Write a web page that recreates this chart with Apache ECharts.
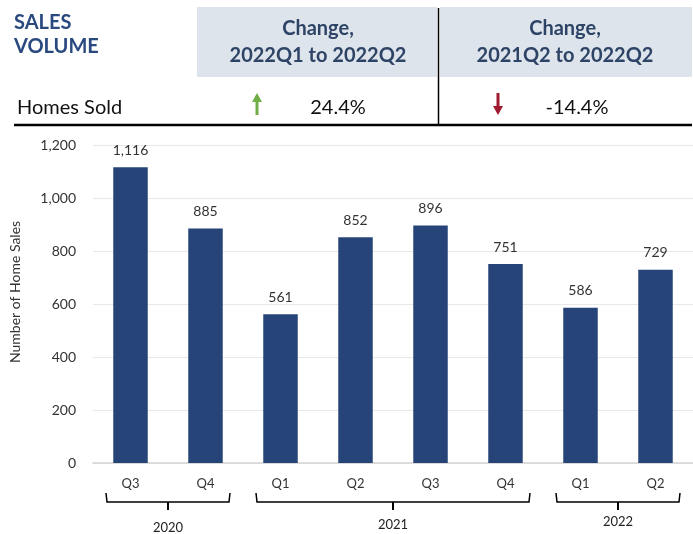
<!DOCTYPE html>
<html>
<head>
<meta charset="utf-8">
<script src="https://cdn.jsdelivr.net/npm/echarts@6/dist/echarts.min.js"></script>
<style>
  html, body { margin: 0; padding: 0; background: #fff; }
  #chart { width: 693px; height: 534px; }
</style>
</head>
<body>
<div id="chart"></div>
<script>
// data
const quarters = ["Q3", "Q4", "Q1", "Q2", "Q3", "Q4", "Q1", "Q2"];
const homeSales = [1116, 885, 561, 852, 896, 751, 586, 729];
const years = ["2020", "2021", "2022"];
const yearSpans = [2, 4, 2]; // number of quarters under each year
const yTicks = [0, 200, 400, 600, 800, 1000, 1200];
const changeHeaders = ["Change,\n2022Q1 to 2022Q2", "Change,\n2021Q2 to 2022Q2"];
const changeValues = ["24.4%", "-14.4%"];

const barColor = "#264478";
const headerColor = "#2e4466";
const font = "Lato, 'Noto Sans', sans-serif";

const chart = echarts.init(document.getElementById("chart"));

// static header table drawn with graphic elements
function arrow(cx, up, color) {
  const top = 93, bottom = 115;
  const shaft = up
    ? { type: "rect", shape: { x: cx - 1.5, y: top + 8, width: 3, height: bottom - top - 8 } }
    : { type: "rect", shape: { x: cx - 1.5, y: top, width: 3, height: bottom - top - 8 } };
  const head = up
    ? { type: "polygon", shape: { points: [[cx - 5, top + 9], [cx + 5, top + 9], [cx, top]] } }
    : { type: "polygon", shape: { points: [[cx - 5, bottom - 9], [cx + 5, bottom - 9], [cx, bottom]] } };
  shaft.style = { fill: color };
  head.style = { fill: color };
  return [shaft, head];
}

const headerGraphics = [
  { type: "rect", shape: { x: 197, y: 7, width: 240, height: 70 }, style: { fill: "#dee4eb" } },
  { type: "rect", shape: { x: 440, y: 7, width: 252, height: 70 }, style: { fill: "#dee4eb" } },
  { type: "line", shape: { x1: 438.5, y1: 8, x2: 438.5, y2: 125 }, style: { stroke: "#000", lineWidth: 1.5 } },
  { type: "line", shape: { x1: 14, y1: 125, x2: 692, y2: 125 }, style: { stroke: "#000", lineWidth: 2.5 } },
  {
    type: "text", x: 14, y: 11,
    style: { text: "SALES\nVOLUME", font: "bold 20px " + font, fill: "#2a4a7f", lineHeight: 24 }
  },
  {
    type: "text", x: 318, y: 42,
    style: { text: changeHeaders[0], font: "bold 20px " + font, fill: headerColor, align: "center", verticalAlign: "middle", lineHeight: 27 }
  },
  {
    type: "text", x: 565, y: 42,
    style: { text: changeHeaders[1], font: "bold 20px " + font, fill: headerColor, align: "center", verticalAlign: "middle", lineHeight: 27 }
  },
  {
    type: "text", x: 17, y: 108,
    style: { text: "Homes Sold", font: "20px " + font, fill: "#111", verticalAlign: "middle" }
  },
  {
    type: "text", x: 338, y: 108,
    style: { text: changeValues[0], font: "20px " + font, fill: "#111", align: "center", verticalAlign: "middle" }
  },
  {
    type: "text", x: 577, y: 108,
    style: { text: changeValues[1], font: "20px " + font, fill: "#111", align: "center", verticalAlign: "middle" }
  },
  ...arrow(257, true, "#70ad47"),
  ...arrow(498, false, "#a0192e")
];

const option = {
  animation: false,
  textStyle: { fontFamily: font },
  grid: { left: 91, right: -3, top: 145, bottom: 71 },
  xAxis: {
    type: "category",
    data: quarters,
    axisLine: { show: true, lineStyle: { color: "#d4d4d4", width: 1.5 } },
    axisTick: { show: false },
    axisLabel: { color: "#333", fontSize: 13, margin: 14, fontFamily: font }
  },
  yAxis: {
    type: "value",
    min: yTicks[0],
    max: yTicks[yTicks.length - 1],
    interval: 200,
    name: "Number of Home Sales",
    nameLocation: "middle",
    nameGap: 71,
    nameTextStyle: { color: "#333", fontSize: 14, fontFamily: font, padding: [0, 0, 0, 24] },
    axisLine: { show: false },
    axisTick: { show: false },
    axisLabel: {
      color: "#333", fontSize: 14, margin: 17, fontFamily: font,
      formatter: (v) => v.toLocaleString("en-US")
    },
    splitLine: { lineStyle: { color: "#e8e8e8", width: 1 } }
  },
  series: [
    {
      type: "bar",
      data: homeSales,
      barWidth: "46%",
      itemStyle: { color: barColor },
      label: {
        show: true,
        position: "top",
        distance: 10,
        color: "#333",
        fontSize: 14,
        fontFamily: font,
        formatter: (p) => p.value.toLocaleString("en-US")
      }
    }
  ],
  graphic: headerGraphics
};

chart.setOption(option);

// year brackets under the quarter labels, placed from the category axis
function yearBrackets() {
  const p0 = chart.convertToPixel({ xAxisIndex: 0 }, 0);
  const p1 = chart.convertToPixel({ xAxisIndex: 0 }, 1);
  const band = p1 - p0;
  const items = [];
  const yLine = 502, yTop = 493, yStem = 510, inset = 13;
  const yearY = [528, 525, 522];
  let start = 0;
  years.forEach((yr, i) => {
    const end = start + yearSpans[i] - 1;
    const x1 = chart.convertToPixel({ xAxisIndex: 0 }, start) - band / 2 + inset;
    const x2 = chart.convertToPixel({ xAxisIndex: 0 }, end) + band / 2 - inset;
    const mid = (x1 + x2) / 2;
    items.push({
      type: "polyline",
      shape: { points: [[x1, yTop], [x1 + 1, yLine], [x2 - 1, yLine], [x2, yTop]] },
      style: { stroke: "#000", lineWidth: 1.5, fill: null }
    });
    items.push({
      type: "line",
      shape: { x1: mid, y1: yLine, x2: mid, y2: yStem },
      style: { stroke: "#000", lineWidth: 2 }
    });
    items.push({
      type: "text", x: mid, y: yearY[i],
      style: { text: yr, font: "13px " + font, fill: "#222", align: "center", verticalAlign: "middle" }
    });
    start = end + 1;
  });
  chart.setOption({ graphic: headerGraphics.concat(items) });
}
yearBrackets();
</script>
</body>
</html>
